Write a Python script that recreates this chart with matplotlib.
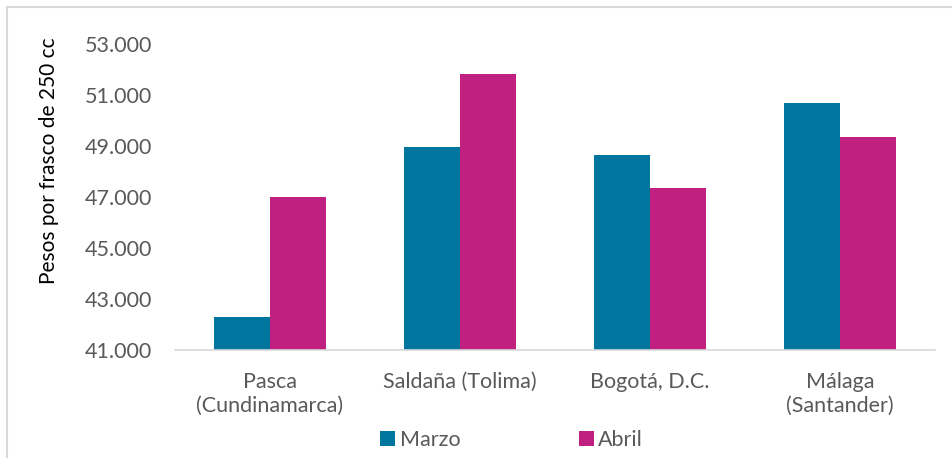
import numpy as np
import matplotlib.pyplot as plt
from matplotlib.patches import Rectangle

categorias = ['Pasca\n(Cundinamarca)', 'Saldaña (Tolima)', 'Bogotá, D.C.', 'Málaga\n(Santander)']
marzo = [42300, 48950, 48650, 50680]
abril = [47000, 51820, 47370, 49360]
ticks_y = [41000, 43000, 45000, 47000, 49000, 51000, 53000]

azul = '#00769F'
magenta = '#C0207F'
gris = '#595959'

plt.rcParams['font.family'] = ['Lato', 'DejaVu Sans']

fig = plt.figure(figsize=(9.52, 4.58), dpi=100)
ax = fig.add_axes([175 / 952, 1 - 350 / 458, 760 / 952, 306 / 458])

x = np.arange(len(categorias))
w = 0.295
ax.bar(x - w / 2, marzo, w, color=azul, label='Marzo')
ax.bar(x + w / 2, abril, w, color=magenta, label='Abril')

ax.set_xlim(-0.5, len(categorias) - 0.5)
ax.set_ylim(41000, 53000)
ax.set_yticks(ticks_y)
ax.set_yticklabels([f'{t:,}'.replace(',', '.') for t in ticks_y])
ax.set_xticks(x)
ax.set_xticklabels(categorias, linespacing=1.2)

for s in ['top', 'right', 'left']:
    ax.spines[s].set_visible(False)
ax.spines['bottom'].set_color('#D9D9D9')
ax.spines['bottom'].set_linewidth(1.2)
ax.tick_params(axis='both', length=0, labelsize=15.5, colors=gris)
ax.tick_params(axis='y', pad=16.5)
ax.tick_params(axis='x', pad=16)

ax.set_ylabel('Pesos por frasco de 250 cc', fontsize=15, color='black')
ax.yaxis.set_label_coords(-0.153, 0.62)

ax.legend(loc='center', bbox_to_anchor=(0.443, -0.294), ncol=2, frameon=False,
          fontsize=15.5, labelcolor=gris, handlelength=0.7, handleheight=0.7,
          handletextpad=0.2, columnspacing=5.5)

# marco del área del gráfico (recortado en el original)
fig.patches.append(Rectangle((7 / 952, -0.1), 1.2, 1.1 - 7 / 458,
                             transform=fig.transFigure, fill=False,
                             edgecolor='#D9D9D9', linewidth=1.5))

fig.savefig('out.png', dpi=100)
